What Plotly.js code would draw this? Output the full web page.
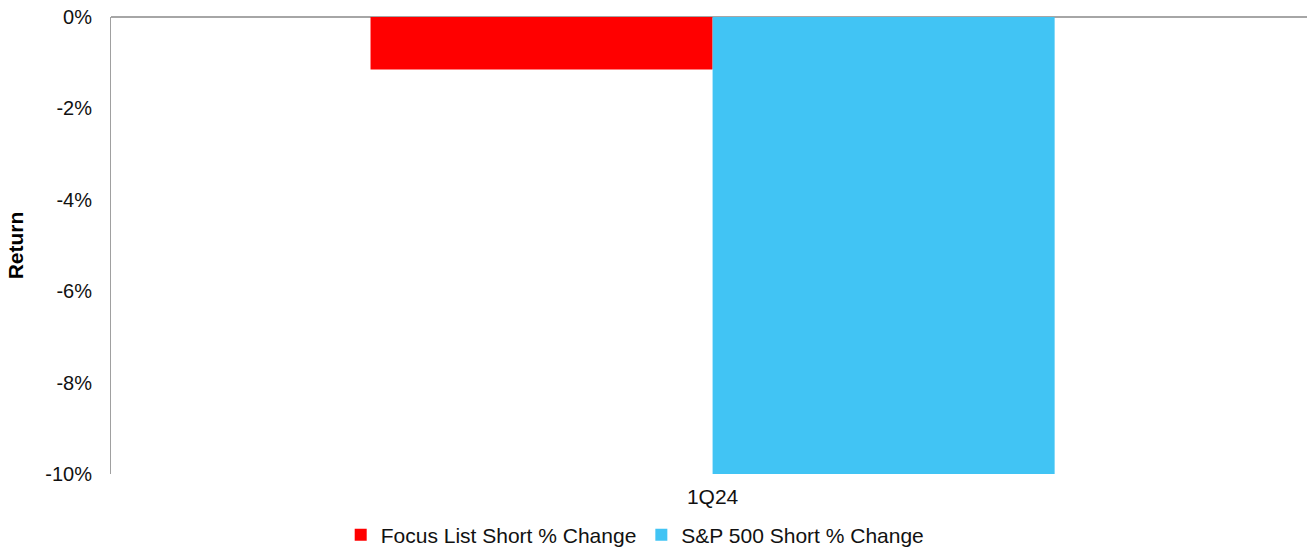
<!DOCTYPE html>
<html>
<head>
<meta charset="utf-8">
<script src="https://cdn.plot.ly/plotly-3.0.1.min.js"></script>
<style>html,body{margin:0;padding:0;background:#fff;}#chart{width:1307px;height:550px;}</style>
</head>
<body>
<div id="chart"></div>
<script>
const categories = ["1Q24"];
const seriesNames = ["Focus List Short % Change", "S&P 500 Short % Change"];
const focusValues = [-1.15];
const spValues = [-10.0];
const yTickVals = [0, -2, -4, -6, -8, -10];
const yTickText = ["0%", "-2%", "-4%", "-6%", "-8%", "-10%"];

const traces = [
  {type: "bar", name: seriesNames[0], x: categories, y: focusValues, marker: {color: "#ff0000"}, hoverinfo: "none"},
  {type: "bar", name: seriesNames[1], x: categories, y: spValues, marker: {color: "#41c4f4"}, hoverinfo: "none"}
];

const layout = {
  width: 1307, height: 550,
  margin: {l: 111, r: 0, t: 17, b: 76, autoexpand: false},
  paper_bgcolor: "#fff", plot_bgcolor: "#fff",
  font: {family: "Liberation Sans, Arial, sans-serif", color: "#111", size: 20},
  barmode: "group",
  bargap: 0.428,
  bargroupgap: 0,
  showlegend: true,
  legend: {orientation: "h", xref: "container", yref: "container", x: 0.486, xanchor: "center", y: 0.027, yanchor: "middle", font: {size: 21}, itemwidth: 30, tracegroupgap: 0},
  xaxis: {
    type: "category", range: [-0.503, 0.497], showline: false, showgrid: false, zeroline: false,
    ticks: "", tickfont: {size: 21}, ticklabelstandoff: 8, fixedrange: true
  },
  yaxis: {
    range: [-10, 0], tickvals: yTickVals, ticktext: yTickText, showgrid: false,
    showline: true, linecolor: "#a0a0a0", linewidth: 1, ticks: "",
    zeroline: true, zerolinecolor: "#a6a6a6", zerolinewidth: 2,
    tickfont: {size: 20}, ticklabelstandoff: 14,
    title: {text: "<b>Return</b>", font: {size: 21, color: "#000"}, standoff: 15}
  }
};

Plotly.newPlot("chart", traces, layout, {displayModeBar: false, staticPlot: true});
</script>
</body>
</html>
